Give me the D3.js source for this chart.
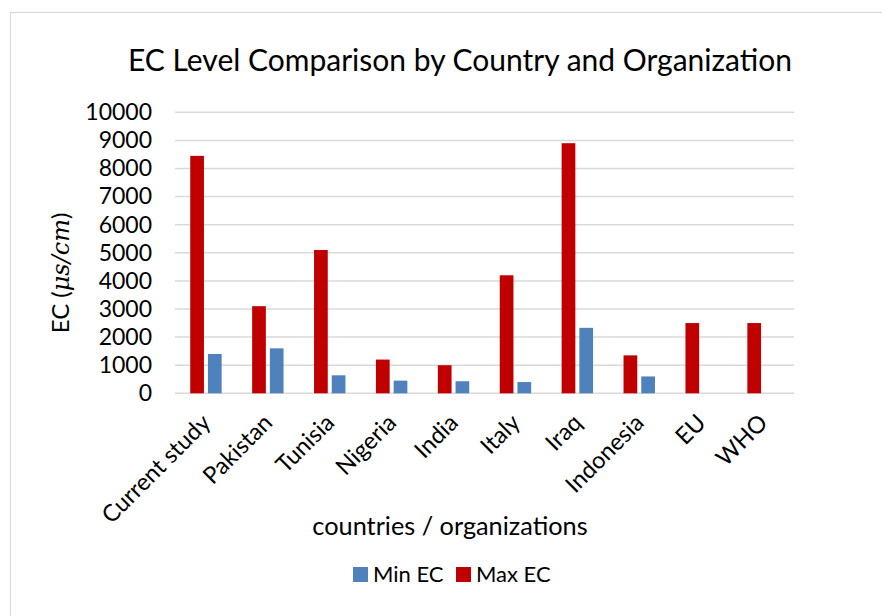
<!DOCTYPE html>
<html>
<head>
<meta charset="utf-8">
<script src="https://cdn.jsdelivr.net/npm/d3@7"></script>
<style>
  html, body { margin: 0; padding: 0; background: #ffffff; }
  svg { display: block; }
  text { font-family: Lato, "Open Sans", sans-serif; fill: #000; }
</style>
</head>
<body>
<svg id="chart" width="882" height="616"></svg>
<script>
// Categories (countries / organizations)
const categories = ["Current study", "Pakistan", "Tunisia", "Nigeria", "India",
                    "Italy", "Iraq", "Indonesia", "EU", "WHO"];
// Electrical conductivity, µs/cm
const maxEC = [8450, 3100, 5100, 1200, 1000, 4200, 8900, 1350, 2500, 2500];
const minEC = [1400, 1600, 640, 450, 430, 400, 2330, 600, 0, 0];
// Y axis ticks
const yTicks = [0, 1000, 2000, 3000, 4000, 5000, 6000, 7000, 8000, 9000, 10000];

const series = [
  { key: "max", name: "Max EC", values: maxEC, color: "#C00000" },
  { key: "min", name: "Min EC", values: minEC, color: "#4F81BD" }
];
const legendOrder = ["min", "max"];

const W = 882, H = 616;
const plot = { left: 175, right: 794, top: 112.3, bottom: 393.3 };

const svg = d3.select("#chart");

// Outer chart frame
svg.append("rect")
  .attr("x", 10.5).attr("y", 12.5)
  .attr("width", W + 20).attr("height", H + 20)
  .attr("fill", "#fff")
  .attr("stroke", "#d9d9d9").attr("stroke-width", 1.2);

const x = d3.scaleBand().domain(categories).range([plot.left, plot.right]).padding(0);
const xs = d3.scaleBand().domain(series.map(s => s.key))
  .range([0, x.bandwidth()]).paddingInner(0.226).paddingOuter(0.861);
const y = d3.scaleLinear().domain([0, 10000]).range([plot.bottom, plot.top]);

// Title
svg.append("text")
  .attr("x", 460).attr("y", 71)
  .attr("text-anchor", "middle")
  .style("font-size", "30px")
  .text("EC Level Comparison by Country and Organization");

// Gridlines
svg.append("g")
  .selectAll("line").data(yTicks).join("line")
  .attr("x1", plot.left).attr("x2", plot.right)
  .attr("y1", d => y(d)).attr("y2", d => y(d))
  .attr("stroke", "#d9d9d9").attr("stroke-width", 1.5);

// Y axis labels
const yAxis = d3.axisLeft(y).tickValues(yTicks).tickSize(0).tickPadding(23)
  .tickFormat(d3.format("d"));
svg.append("g")
  .attr("transform", `translate(${plot.left},0)`)
  .call(yAxis)
  .call(g => g.select(".domain").remove())
  .call(g => g.selectAll("text")
    .style("font-family", "Lato, sans-serif")
    .style("font-size", "23px").attr("fill", "#000"));

// Bars
const groups = svg.append("g").selectAll("g").data(categories).join("g")
  .attr("transform", d => `translate(${x(d)},0)`);
groups.selectAll("rect")
  .data((c, i) => series.map(s => ({ key: s.key, color: s.color, v: s.values[i] })))
  .join("rect")
  .attr("x", d => xs(d.key))
  .attr("width", xs.bandwidth())
  .attr("y", d => y(d.v))
  .attr("height", d => y(0) - y(d.v))
  .attr("fill", d => d.color);

// X axis category labels (rotated)
const xAxis = d3.axisBottom(x).tickSize(0).tickPadding(0);
svg.append("g")
  .attr("transform", `translate(0,${plot.bottom})`)
  .call(xAxis)
  .call(g => g.select(".domain").remove())
  .call(g => g.selectAll("text")
    .style("font-family", "Lato, sans-serif")
    .style("font-size", "23.5px").attr("fill", "#000")
    .attr("text-anchor", "end")
    .attr("dy", null).attr("y", null)
    .attr("transform", "translate(6,31) rotate(-45)"));

// Axis titles
svg.append("text")
  .attr("x", 450).attr("y", 535)
  .attr("text-anchor", "middle")
  .style("font-size", "25.3px")
  .text("countries / organizations");

const yt = svg.append("text")
  .attr("transform", "translate(69,273) rotate(-90)")
  .attr("text-anchor", "middle")
  .style("font-size", "24px");
yt.append("tspan").text("EC (");
yt.append("tspan").style("font-family", "'DejaVu Serif', 'Liberation Serif', serif")
  .style("font-style", "italic").text("μs/cm");
yt.append("tspan").text(")");

// Legend
const legend = svg.append("g");
const items = legendOrder.map(k => series.find(s => s.key === k));
const legendX = [353, 456];
items.forEach((s, i) => {
  const g = legend.append("g").attr("transform", `translate(${legendX[i]},567)`);
  g.append("rect").attr("width", 15).attr("height", 15).attr("fill", s.color);
  g.append("text").attr("x", 20).attr("y", 15).style("font-size", "22px").text(s.name);
});
</script>
</body>
</html>
